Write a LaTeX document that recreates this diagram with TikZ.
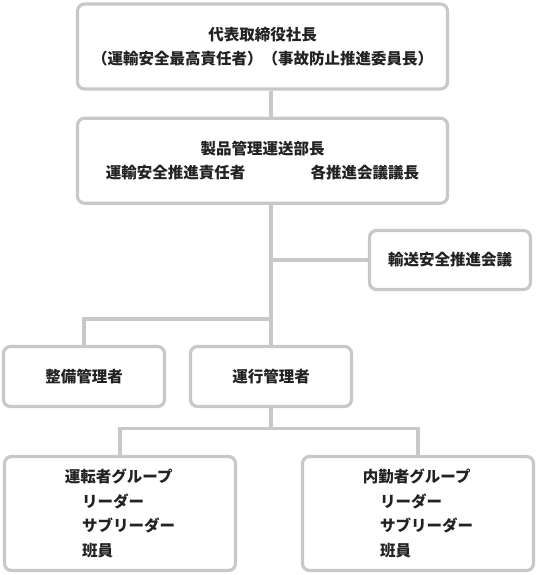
\documentclass[tikz,border=0pt]{standalone}
\usepackage{fontspec}
\setmainfont{Noto Sans CJK JP}
\usetikzlibrary{
  positioning,
  calc
}
\usepackage{xcolor}
\definecolor{orggray}{HTML}{C8C8C8}
\definecolor{orgtext}{HTML}{222222}

\begin{document}
\begin{tikzpicture}[
  x=1pt, y=-1pt,
  box/.style={draw=orggray, line width=3.2pt, rounded corners=7pt, fill=white,
    font=\fontsize{15.5}{24.5}\selectfont\bfseries, text=orgtext, align=center, inner sep=0pt},
  link/.style={draw=orggray, line width=3.2pt}
]
  \useasboundingbox (0,0) rectangle (538,575);

  % Top: president
  \node[box, minimum width=370pt, minimum height=85pt] (pres) at (262.5,46.5) {
    代表取締役社長\\（運輸安全最高責任者）（事故防止推進委員長）
  };

  % Department manager
  \node[box, minimum width=370pt, minimum height=85pt, below=26pt of pres] (mgr) {
    製品管理運送部長\\運輸安全推進責任者\hspace{4.2em}各推進会議議長
  };

  % Council
  \node[box, minimum width=161pt, minimum height=59pt] (council) at (450,260) {輸送安全推進会議};

  % Managers
  \node[box, minimum width=161pt, minimum height=60pt] (seibi) at (84,376.5) {整備管理者};
  \node[box, minimum width=161pt, minimum height=60pt] (unko) at (271,376.5) {運行管理者};

  % Groups
  \node[box, align=left, minimum width=231pt, minimum height=114pt] (drivers) at (120,513.5) {
    運転者グループ\\\hspace{1.1em}リーダー\\\hspace{1.1em}サブリーダー\\\hspace{1.1em}班員
  };
  \node[box, align=left, minimum width=231pt, minimum height=114pt] (office) at (418,513.5) {
    内勤者グループ\\\hspace{1.1em}リーダー\\\hspace{1.1em}サブリーダー\\\hspace{1.1em}班員
  };

  % Connectors
  \draw[link] (pres.south -| unko.north) -- (mgr.north -| unko.north);
  \draw[link] (mgr.south -| unko.north) -- (unko.north);
  \draw[link] (council.west -| unko.north) -- (council.west);
  \coordinate (fork) at (unko.north |- 0,319);
  \draw[link] (fork) -| (seibi.north);
  \draw[link] (unko.south) -- ++(0,20) coordinate (split);
  \draw[link] (drivers.north) |- (split) -| (office.north);

\end{tikzpicture}
\end{document}
